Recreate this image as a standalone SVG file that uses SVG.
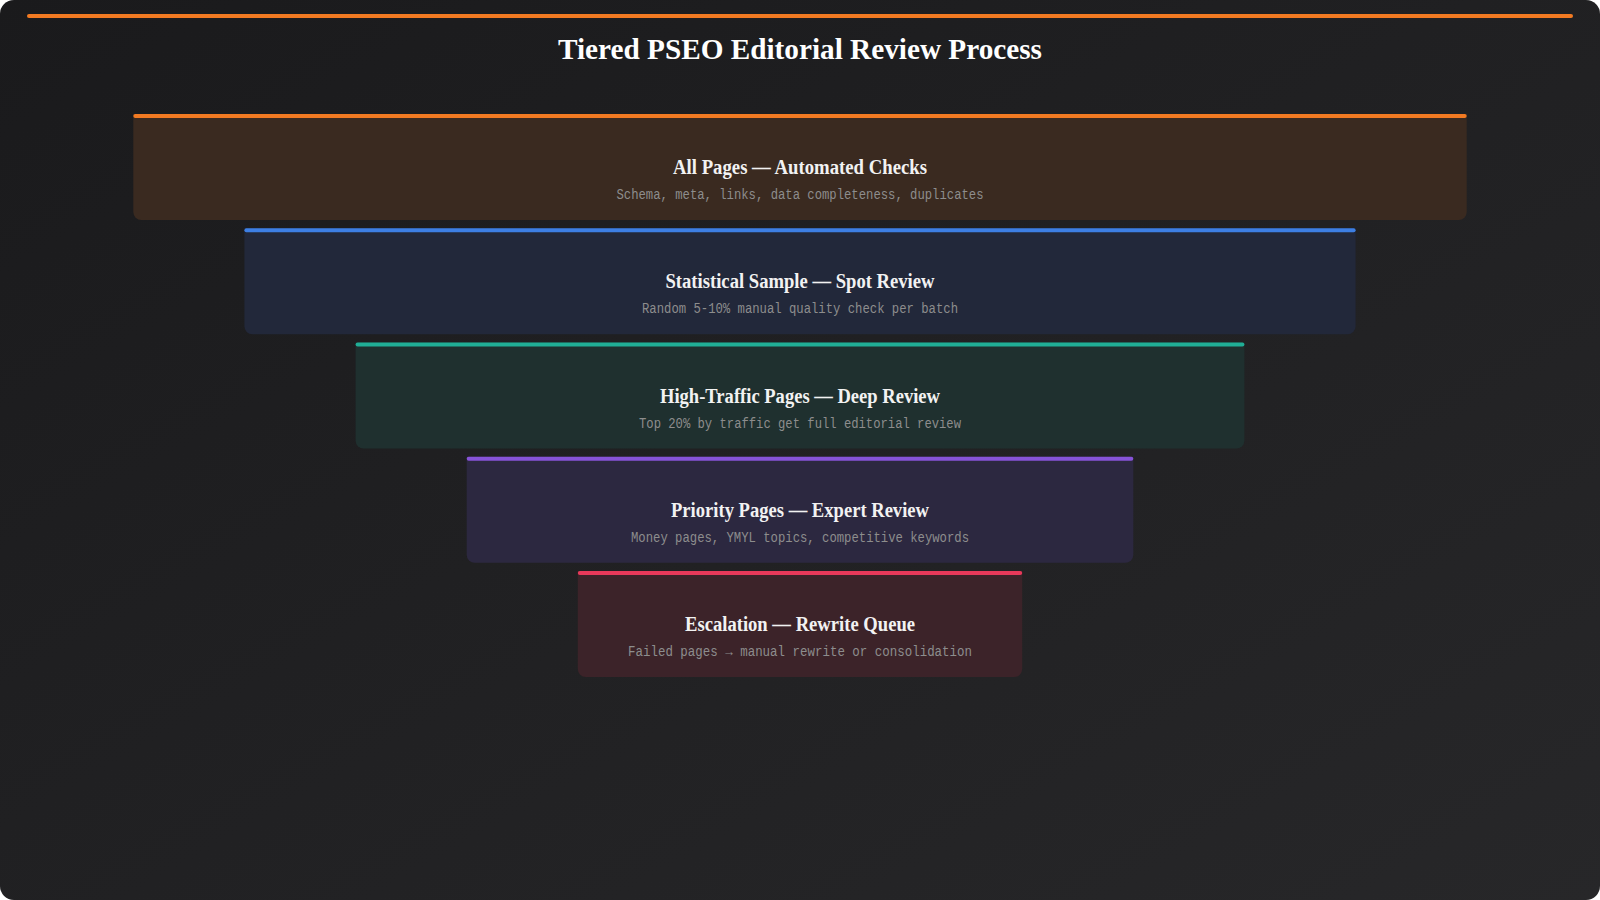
<svg xmlns="http://www.w3.org/2000/svg" width="1600" height="900" viewBox="0 0 1600 900">
  <defs>
    <linearGradient id="bg" x1="0" y1="0" x2="1" y2="1">
      <stop offset="0" stop-color="#1a1a1c"/>
      <stop offset="1" stop-color="#272729"/>
    </linearGradient>
    <style>
      .title { font-family: "Liberation Serif", "Times New Roman", serif; font-weight: bold; font-size: 30px; fill: #ffffff; text-anchor: middle; }
      .head { font-family: "Liberation Serif", "Times New Roman", serif; font-weight: bold; font-size: 20px; fill: #f2f2f2; text-anchor: middle; }
      .sub { font-family: "Liberation Mono", "Courier New", monospace; font-size: 14px; fill: #8d8d8d; text-anchor: middle; }
    </style>
  </defs>
  <rect x="0" y="0" width="1600" height="900" fill="#ffffff"/>
  <rect x="0" y="0" width="1600" height="900" rx="14" fill="url(#bg)"/>
  <line x1="29" y1="16" x2="1571" y2="16" stroke="#f27a22" stroke-width="4" stroke-linecap="round"/>
  <text class="title" x="800" y="59" textLength="484" lengthAdjust="spacingAndGlyphs">Tiered PSEO Editorial Review Process</text>

  <g id="tier1">
    <path d="M133.3,114 H1466.7 V212 a8,8 0 0 1 -8,8 H141.3 a8,8 0 0 1 -8,-8 Z" fill="#3a2a20"/>
    <rect x="133.3" y="114" width="1333.4" height="4" rx="2" fill="#f27a22"/>
    <text class="head" x="800" y="174" textLength="254" lengthAdjust="spacingAndGlyphs">All Pages — Automated Checks</text>
    <text class="sub" x="800" y="199" textLength="367" lengthAdjust="spacingAndGlyphs">Schema, meta, links, data completeness, duplicates</text>
  </g>
  <g id="tier2">
    <path d="M244.4,228.25 H1355.6 V326.25 a8,8 0 0 1 -8,8 H252.4 a8,8 0 0 1 -8,-8 Z" fill="#22283a"/>
    <rect x="244.4" y="228.25" width="1111.2" height="4" rx="2" fill="#3d7fe4"/>
    <text class="head" x="800" y="288" textLength="269" lengthAdjust="spacingAndGlyphs">Statistical Sample — Spot Review</text>
    <text class="sub" x="800" y="313" textLength="316" lengthAdjust="spacingAndGlyphs">Random 5-10% manual quality check per batch</text>
  </g>
  <g id="tier3">
    <path d="M355.6,342.5 H1244.4 V440.5 a8,8 0 0 1 -8,8 H363.6 a8,8 0 0 1 -8,-8 Z" fill="#1f302f"/>
    <rect x="355.6" y="342.5" width="888.8" height="4" rx="2" fill="#20ae96"/>
    <text class="head" x="800" y="402.5" textLength="280" lengthAdjust="spacingAndGlyphs">High-Traffic Pages — Deep Review</text>
    <text class="sub" x="800" y="427.5" textLength="322" lengthAdjust="spacingAndGlyphs">Top 20% by traffic get full editorial review</text>
  </g>
  <g id="tier4">
    <path d="M466.7,456.75 H1133.3 V554.75 a8,8 0 0 1 -8,8 H474.7 a8,8 0 0 1 -8,-8 Z" fill="#2c2840"/>
    <rect x="466.7" y="456.75" width="666.6" height="4" rx="2" fill="#8753d8"/>
    <text class="head" x="800" y="516.75" textLength="258" lengthAdjust="spacingAndGlyphs">Priority Pages — Expert Review</text>
    <text class="sub" x="800" y="541.75" textLength="338" lengthAdjust="spacingAndGlyphs">Money pages, YMYL topics, competitive keywords</text>
  </g>
  <g id="tier5">
    <path d="M577.8,571 H1022.2 V669 a8,8 0 0 1 -8,8 H585.8 a8,8 0 0 1 -8,-8 Z" fill="#3c2329"/>
    <rect x="577.8" y="571" width="444.4" height="4" rx="2" fill="#e8395a"/>
    <text class="head" x="800" y="631" textLength="230" lengthAdjust="spacingAndGlyphs">Escalation — Rewrite Queue</text>
    <text class="sub" x="800" y="656" textLength="344" lengthAdjust="spacingAndGlyphs">Failed pages → manual rewrite or consolidation</text>
  </g>
  <g id="connectors"></g>
</svg>
